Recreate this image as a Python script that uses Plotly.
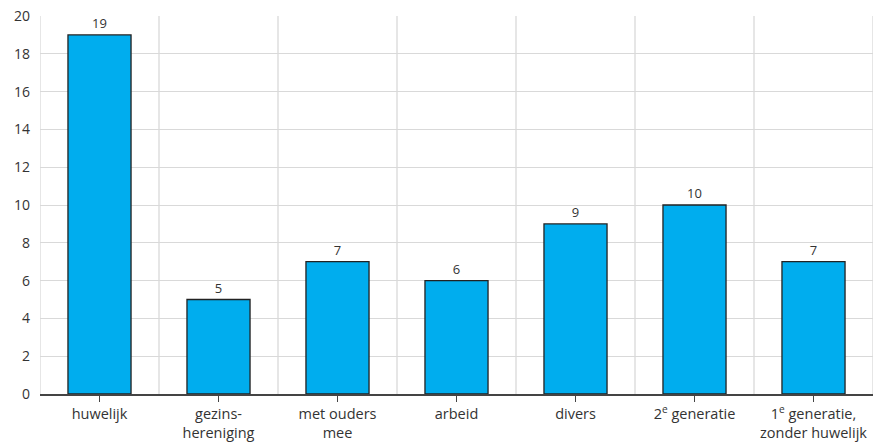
import plotly.graph_objects as go

categories = ["huwelijk", "gezins-<br>hereniging", "met ouders<br>mee", "arbeid", "divers",
              "2<sup>e</sup> generatie", "1<sup>e</sup> generatie,<br>zonder huwelijk"]
values = [19, 5, 7, 6, 9, 10, 7]
y_ticks = list(range(0, 21, 2))

fig = go.Figure()
fig.add_trace(go.Bar(
    x=list(range(len(categories))), y=values,
    marker=dict(color="#00adee", line=dict(color="#222222", width=1.3)),
    width=0.53,
    text=[str(v) for v in values], textposition="outside",
    textfont=dict(size=13, color="#333333"),
    cliponaxis=False,
))

for i in range(len(categories) + 1):
    fig.add_shape(type="line", xref="x", yref="paper", x0=i - 0.5, x1=i - 0.5, y0=0, y1=1,
                  line=dict(color="#d9d9d9", width=1.3), layer="below")

fig.update_layout(
    width=874, height=446,
    margin=dict(l=40, r=1, t=16, b=52),
    paper_bgcolor="white", plot_bgcolor="white",
    font=dict(family="Open Sans", color="#333333", size=14),
    showlegend=False,
)
fig.update_xaxes(
    tickmode="array", tickvals=list(range(len(categories))), ticktext=categories,
    range=[-0.5, len(categories) - 0.5],
    showgrid=False, zeroline=False, automargin=False,
    showline=True, linecolor="#444444", linewidth=1.5,
    ticks="outside", ticklen=6, tickcolor="#444444", tickwidth=1,
    tickfont=dict(size=14.5, color="#333333"),
    ticklabeloverflow="allow",
)
fig.update_yaxes(
    range=[0, 20], tickmode="array", tickvals=y_ticks,
    showgrid=True, gridcolor="#d9d9d9", gridwidth=1.3,
    zeroline=False, showline=False, ticks="", automargin=False,
    ticklabelstandoff=9, ticklabeloverflow="allow",
    tickfont=dict(size=14, color="#333333"),
)

fig.write_html("out.html",
               config={"displayModeBar": False},
               post_script="document.body.style.margin='0';document.body.style.overflow='hidden';")
